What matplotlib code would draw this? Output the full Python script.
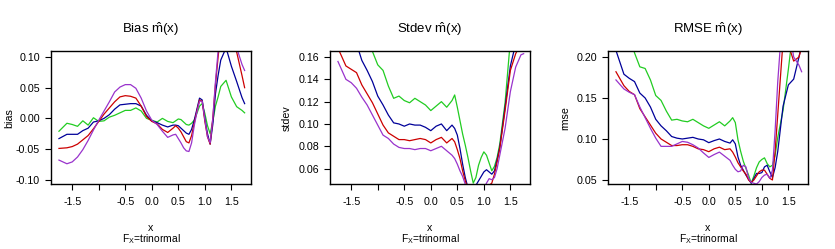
#!/usr/bin/env python3
"""
plot.py

Bias, Stdev and RMSE of m-hat(x) for four estimators, F_X = trinormal.
"""

import matplotlib
matplotlib.use("Agg")
import matplotlib.pyplot as plt

# -------------------------------------------------------------------
# Data
# -------------------------------------------------------------------
x = [-1.75, -1.6, -1.5, -1.4, -1.3, -1.2, -1.1, -1.0, -0.9, -0.8, -0.7,
     -0.6, -0.5, -0.4, -0.3, -0.2, -0.1, 0.0, 0.1, 0.2, 0.3, 0.4,
     0.45, 0.5, 0.55, 0.6, 0.65, 0.7, 0.75, 0.8, 0.85, 0.9, 0.95, 1.0,
     1.05, 1.1, 1.15, 1.2, 1.25, 1.3,
     1.4, 1.5, 1.6, 1.7, 1.75]

bias_green = [-0.021, -0.008, -0.01, -0.013, -0.004, -0.011, 0.001, -0.005,
              -0.004, 0.002, 0.005, 0.009, 0.013, 0.013, 0.017, 0.012, 0.0,
              -0.003, -0.006, 0.0, -0.005, -0.007,
              -0.004, -0.001, -0.002, -0.006, -0.01, -0.011, -0.008, -0.003,
              0.008, 0.02, 0.024, 0.008, -0.012, -0.025, -0.005, 0.02, 0.035,
              0.052,
              0.062, 0.035, 0.019, 0.013, 0.009]
bias_blue = [-0.033, -0.026, -0.026, -0.026, -0.02, -0.016, -0.006, -0.004,
             0.0, 0.006, 0.015, 0.022, 0.023, 0.024, 0.024, 0.02, 0.005,
             -0.004, -0.007, -0.011, -0.014, -0.011,
             -0.011, -0.012, -0.016, -0.02, -0.024, -0.026, -0.018, -0.003,
             0.015, 0.033, 0.03, 0.0, -0.025, -0.042, -0.01, 0.04, 0.07,
             0.095,
             0.115, 0.085, 0.06, 0.034, 0.024]
bias_red = [-0.049, -0.048, -0.046, -0.042, -0.035, -0.028, -0.017, -0.005,
            0.007, 0.017, 0.027, 0.035, 0.037, 0.036, 0.033, 0.02, 0.003,
            -0.005, -0.009, -0.018, -0.023, -0.016,
            -0.012, -0.016, -0.022, -0.03, -0.038, -0.04, -0.028, -0.008,
            0.012, 0.03, 0.028, -0.005, -0.03, -0.042, 0.0, 0.055, 0.1, 0.14,
            0.2, 0.15, 0.108, 0.07, 0.05]
bias_purple = [-0.068, -0.074, -0.071, -0.063, -0.051, -0.036, -0.019,
               -0.003, 0.012, 0.027, 0.043, 0.051, 0.055, 0.055, 0.049,
               0.033, 0.012, -0.003, -0.01, -0.021, -0.031, -0.027,
               -0.026, -0.033, -0.04, -0.048, -0.053, -0.054, -0.04, -0.012,
               0.01, 0.028, 0.028, -0.002, -0.03, -0.04, 0.0, 0.06, 0.11,
               0.16,
               0.25, 0.2, 0.115, 0.088, 0.078]

sd_green = [0.26, 0.23, 0.21, 0.195, 0.185, 0.175, 0.165, 0.153, 0.148,
            0.134, 0.123, 0.125, 0.121, 0.119, 0.123, 0.12, 0.117, 0.112,
            0.116, 0.12, 0.115, 0.121,
            0.126, 0.115, 0.103, 0.091, 0.081, 0.07, 0.058, 0.047, 0.052,
            0.063, 0.07, 0.075, 0.072, 0.065, 0.058, 0.062, 0.07, 0.082,
            0.119, 0.175, 0.22, 0.26, 0.28]
sd_blue = [0.23, 0.205, 0.19, 0.172, 0.157, 0.148, 0.138, 0.125, 0.117,
           0.108, 0.101, 0.1, 0.098, 0.1, 0.099, 0.099, 0.097, 0.094, 0.098,
           0.1, 0.094, 0.099,
           0.096, 0.09, 0.078, 0.064, 0.052, 0.043, 0.04, 0.04, 0.045,
           0.049, 0.053, 0.057, 0.059, 0.057, 0.055, 0.058, 0.068, 0.079,
           0.115, 0.152, 0.172, 0.2, 0.21]
sd_red = [0.168, 0.152, 0.149, 0.146, 0.135, 0.127, 0.119, 0.109, 0.099,
          0.092, 0.089, 0.086, 0.086, 0.085, 0.086, 0.087, 0.086, 0.083,
          0.086, 0.088, 0.083, 0.087,
          0.084, 0.077, 0.069, 0.058, 0.049, 0.042, 0.038, 0.036, 0.036,
          0.038, 0.04, 0.042, 0.044, 0.045, 0.047, 0.055, 0.066, 0.078,
          0.112, 0.148, 0.163, 0.172, 0.18]
sd_purple = [0.156, 0.14, 0.137, 0.132, 0.124, 0.117, 0.108, 0.099, 0.09,
             0.087, 0.082, 0.079, 0.078, 0.078, 0.077, 0.078, 0.078, 0.076,
             0.078, 0.08, 0.076, 0.072,
             0.069, 0.064, 0.058, 0.053, 0.046, 0.04, 0.036, 0.034, 0.034,
             0.036, 0.039, 0.042, 0.047, 0.051, 0.05, 0.052, 0.06, 0.072,
             0.096, 0.129, 0.151, 0.162, 0.163]

rmse_green = [0.3, 0.26, 0.23, 0.205, 0.188, 0.186, 0.172, 0.153, 0.147,
              0.134, 0.123, 0.124, 0.122, 0.121, 0.124, 0.12, 0.116, 0.113,
              0.117, 0.121, 0.116, 0.122,
              0.126, 0.12, 0.099, 0.085, 0.073, 0.064, 0.056, 0.046, 0.055,
              0.065, 0.072, 0.075, 0.077, 0.07, 0.066, 0.068, 0.08, 0.102,
              0.135, 0.185, 0.24, 0.28, 0.3]
rmse_blue = [0.208, 0.179, 0.174, 0.17, 0.156, 0.15, 0.139, 0.124, 0.116,
             0.11, 0.103, 0.101, 0.1, 0.101, 0.102, 0.1, 0.099, 0.0955,
             0.098, 0.1, 0.097, 0.095,
             0.099, 0.094, 0.078, 0.068, 0.062, 0.056, 0.051, 0.046, 0.052,
             0.058, 0.058, 0.059, 0.066, 0.068, 0.06, 0.053, 0.065, 0.085,
             0.14, 0.166, 0.173, 0.2, 0.215]
rmse_red = [0.182, 0.165, 0.158, 0.154, 0.137, 0.127, 0.117, 0.107, 0.1,
            0.096, 0.092, 0.092, 0.093, 0.093, 0.091, 0.088, 0.087, 0.0845,
            0.088, 0.09, 0.087, 0.088,
            0.084, 0.078, 0.071, 0.066, 0.061, 0.057, 0.05, 0.047, 0.05,
            0.055, 0.06, 0.062, 0.062, 0.057, 0.052, 0.05, 0.085, 0.13,
            0.22, 0.215, 0.195, 0.2, 0.212]
rmse_purple = [0.172, 0.161, 0.157, 0.154, 0.139, 0.126, 0.113, 0.101,
               0.091, 0.091, 0.091, 0.094, 0.097, 0.096, 0.093, 0.089, 0.083,
               0.0775, 0.081, 0.084, 0.079, 0.074,
               0.068, 0.063, 0.06, 0.061, 0.068, 0.066, 0.052, 0.047, 0.046,
               0.045, 0.048, 0.053, 0.056, 0.057, 0.052, 0.062, 0.11, 0.17,
               0.26, 0.24, 0.2, 0.19, 0.182]

x_ticks = [-1.5, -1.0, -0.5, 0.0, 0.5, 1.0, 1.5]
x_ticklabels = ["-1.5", "", "-0.5", "0.0", "0.5", "1.0", "1.5"]

# -------------------------------------------------------------------
# Style constants
# -------------------------------------------------------------------
COLORS = ["#22CC22", "#000099", "#CC0000", "#9933CC"]
W, H = 835, 249
FONT = "Liberation Sans"
plt.rcParams["font.family"] = FONT
plt.rcParams["mathtext.fontset"] = "custom"
plt.rcParams["mathtext.rm"] = FONT
plt.rcParams["mathtext.it"] = FONT

panels = [
    {"title": r"Bias $\hat{\mathrm{m}}\mathrm{(x)}$", "ylabel": "bias",
     "series": [bias_green, bias_blue, bias_red, bias_purple],
     "ylim": (-0.107, 0.1098), "yticks": [-0.10, -0.05, 0.0, 0.05, 0.10],
     "left": 51, "ylab_x": 9},
    {"title": r"Stdev $\hat{\mathrm{m}}\mathrm{(x)}$", "ylabel": "stdev",
     "series": [sd_green, sd_blue, sd_red, sd_purple],
     "ylim": (0.0462, 0.1654), "yticks": [0.06, 0.08, 0.10, 0.12, 0.14, 0.16],
     "left": 330, "ylab_x": 287},
    {"title": r"RMSE $\hat{\mathrm{m}}\mathrm{(x)}$", "ylabel": "rmse",
     "series": [rmse_green, rmse_blue, rmse_red, rmse_purple],
     "ylim": (0.0451, 0.2073), "yticks": [0.05, 0.10, 0.15, 0.20],
     "left": 608, "ylab_x": 565},
]

fig = plt.figure(figsize=(W / 100, H / 100), dpi=100)

for p in panels:
    # axes box in pixels: width 200, top 51, bottom 184
    ax = fig.add_axes([p["left"] / W, 1 - 184 / H, 200 / W, 133 / H])
    for ys, c in zip(p["series"], COLORS):
        ax.plot(x, ys, color=c, lw=0.9)

    ax.set_xlim(-1.9, 1.87)
    ax.set_ylim(*p["ylim"])
    ax.set_xticks(x_ticks)
    ax.set_xticklabels(x_ticklabels)
    ax.set_yticks(p["yticks"])
    ax.set_yticklabels([f"{v:.2f}" for v in p["yticks"]])
    ax.tick_params(labelsize=7.7, length=4.5, width=0.8, colors="black")
    ax.tick_params(axis="x", pad=5)
    ax.tick_params(axis="y", pad=3.5)
    for s in ax.spines.values():
        s.set_linewidth(1.0)

    cx = (p["left"] + 100) / W
    fig.text(cx, 1 - 29 / H, p["title"], ha="center", va="center",
             fontsize=9.5)
    # axis label and sub-title sit close together, as in R
    fig.text(cx, 1 - 231 / H, "x", ha="center", va="baseline", fontsize=7.7)
    fig.text(cx, 1 - 242.5 / H, r"$\mathrm{F_X}$=trinormal", ha="center",
             va="baseline", fontsize=7.4)
    fig.text(p["ylab_x"] / W, 1 - 118 / H, p["ylabel"], ha="center",
             va="center", rotation=90, fontsize=7.7)

fig.savefig("out.png", dpi=100)
plt.close(fig)
